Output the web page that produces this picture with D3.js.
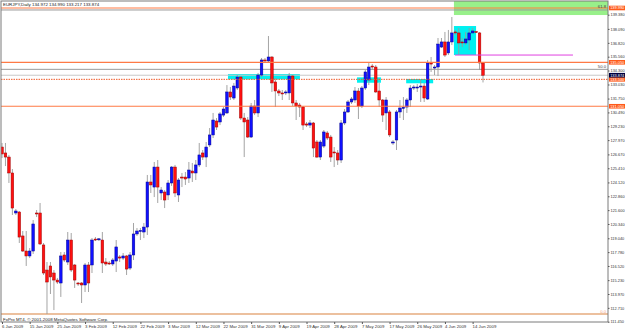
<!DOCTYPE html>
<html>
<head>
<meta charset="utf-8">
<script src="https://cdn.jsdelivr.net/npm/d3@7"></script>
<style>
  body { margin: 0; background: #fff; }
  svg text { font-family: "Liberation Sans", Arial, sans-serif; }
</style>
</head>
<body>
<div id="chart-container"></div>
<script>
// EURJPY daily candles, 6 Jan 2009 - 17 Jun 2009 (Sunday bars included)
const opens = [127.34,126.80,126.43,124.98,121.34,121.43,119.25,117.88,117.43,117.88,
  121.34,121.34,118.43,116.15,116.52,115.88,115.24,114.97,117.52,116.88,
  118.88,116.61,114.97,114.97,114.79,116.61,116.61,118.97,118.97,118.88,
  116.88,116.79,116.70,116.97,117.34,117.24,117.43,116.33,117.52,119.43,
  119.70,119.61,120.06,124.16,123.70,125.52,123.16,123.25,122.98,124.07,
  125.52,122.98,124.61,124.61,124.52,125.16,124.98,125.71,126.80,126.43,
  127.53,128.44,129.71,129.62,130.25,130.44,132.35,131.80,132.71,133.71,
  129.98,129.80,128.25,131.07,130.44,133.89,135.26,135.17,135.53,133.26,
  132.44,132.26,132.26,132.26,133.80,131.35,131.16,130.98,129.44,129.34,
  129.53,127.80,126.43,127.43,128.62,128.25,126.89,126.80,126.16,129.53,
  130.53,131.44,131.62,132.44,131.07,132.71,133.44,134.71,134.62,132.44,
  131.62,130.44,130.53,127.71,127.98,130.53,130.89,130.98,131.62,132.71,
  132.71,132.80,132.89,131.71,134.99,134.53,134.62,136.44,136.90,135.90,
  136.90,137.81,137.72,136.90,136.81,137.08,137.72,137.85,137.72,134.972];
const highs = [127.71,127.71,126.62,125.34,121.70,121.52,119.70,119.70,118.15,120.70,
  121.61,122.25,118.61,116.88,116.88,116.15,115.43,117.79,117.79,119.61,
  119.52,116.70,115.06,115.06,116.79,116.88,119.06,119.15,119.06,119.61,
  117.24,116.97,117.24,118.88,117.52,117.70,117.52,117.79,120.43,119.97,
  119.97,120.43,124.80,124.80,125.98,126.16,123.70,123.43,124.34,125.61,
  125.71,124.52,124.98,125.07,125.98,125.89,126.16,127.71,127.07,127.80,
  129.07,130.44,129.98,130.53,130.98,132.98,132.80,133.17,133.89,133.80,
  130.44,130.07,131.35,131.62,134.08,135.44,135.44,137.44,135.62,133.62,
  132.62,132.53,132.53,134.08,133.89,131.62,131.35,131.07,129.62,129.80,
  129.62,127.98,127.98,128.89,128.80,128.44,127.34,127.07,129.80,130.80,
  131.62,131.89,132.80,132.71,132.89,134.35,134.99,134.89,134.80,133.17,
  131.71,131.89,130.71,127.98,130.71,131.62,131.89,131.80,132.98,132.98,
  133.07,133.44,133.17,135.26,135.53,134.80,137.26,137.26,137.81,137.99,
  139.17,137.99,138.17,137.26,137.81,138.17,138.17,137.90,137.81,134.990];
const lows = [126.34,125.61,124.07,121.16,121.16,118.61,117.79,116.52,117.24,117.61,
  120.97,118.43,115.70,112.15,113.97,112.51,114.88,113.70,116.88,116.61,
  115.97,114.52,114.70,113.15,114.15,114.15,115.88,118.79,118.79,115.88,
  116.52,116.61,116.52,115.97,116.88,117.06,115.70,116.15,117.06,119.25,
  118.88,119.06,119.34,123.16,122.79,122.25,122.52,121.79,122.52,123.80,
  122.79,122.34,123.70,123.89,124.07,124.16,124.34,125.52,126.16,125.52,
  127.34,128.16,128.89,129.34,130.07,130.35,131.62,131.62,132.53,129.80,
  126.43,128.16,128.16,130.25,130.07,133.71,134.99,135.08,132.35,130.98,
  131.98,131.62,132.07,131.62,131.07,129.80,130.07,128.89,129.16,129.07,
  126.43,126.34,126.16,127.25,127.98,125.98,125.52,125.71,125.89,129.34,
  130.44,131.26,131.35,129.89,130.89,132.53,132.98,134.35,132.26,130.98,
  129.62,128.89,128.25,127.53,127.07,129.98,129.80,130.44,130.98,132.53,
  132.35,131.44,131.44,131.62,134.17,133.89,133.80,136.35,135.53,135.71,
  136.62,137.53,135.71,136.44,136.62,136.17,137.70,137.72,134.35,133.217];
const closes = [126.71,126.43,124.98,121.79,121.52,119.15,117.88,117.43,117.88,120.34,
  121.30,118.52,115.88,115.06,115.52,115.24,115.06,117.43,117.06,118.88,
  116.15,115.24,114.88,114.79,116.61,114.97,118.88,118.95,118.99,116.79,
  116.70,116.75,117.06,118.25,117.24,117.43,116.24,117.52,119.43,119.70,
  119.75,120.06,124.16,123.89,125.52,123.70,123.43,122.52,124.07,125.52,
  123.16,124.34,124.52,124.43,125.25,124.98,125.71,126.62,126.43,127.34,
  128.44,129.80,129.16,130.35,130.80,132.35,131.89,132.89,133.71,129.98,
  129.62,128.25,131.07,130.44,133.89,135.26,135.17,135.53,133.17,132.44,
  132.26,132.17,132.35,133.80,131.35,131.07,130.98,129.34,129.34,129.53,
  127.25,126.43,127.80,128.71,128.16,126.43,126.80,126.16,129.53,130.53,
  131.44,131.71,132.44,131.07,132.71,134.17,134.62,134.62,132.35,131.62,
  130.25,131.62,128.44,127.80,130.53,130.89,130.95,131.62,132.71,132.80,
  132.80,132.89,131.80,134.99,134.89,134.62,136.71,136.90,135.71,136.90,
  137.72,137.72,136.81,136.81,137.17,137.72,137.90,137.81,134.99,133.874];

// axis labels
const dateLabels = ["6 Jan 2009","15 Jan 2009","25 Jan 2009","3 Feb 2009","12 Feb 2009",
  "22 Feb 2009","3 Mar 2009","12 Mar 2009","22 Mar 2009","31 Mar 2009","9 Apr 2009",
  "19 Apr 2009","28 Apr 2009","7 May 2009","17 May 2009","26 May 2009","4 Jun 2009","14 Jun 2009"];
const priceTicks = [139.380,138.090,136.820,135.560,134.300,133.030,131.750,130.490,129.230,
  127.970,126.670,125.410,124.120,122.860,121.600,120.340,119.040,117.780,116.520,
  115.230,113.970,112.710,111.450];

// drawn objects
const hLevels = [139.990, 135.050, 131.050];    // solid orange lines
const dashLevels = [133.500];                     // dotted orange line
const fibLevels = [["61.8", 139.81], ["50.0", 134.41], ["0.0", 112.15]];
const bidPrice = 133.874;
const boxes = [   // [fromBar, toBar, topPrice, bottomPrice]
  [65.3, 86.1, 133.98, 133.50],
  [102.6, 109.5, 133.68, 133.19],
  [116.8, 124.6, 133.53, 133.14],
  [130.6, 137.0, 138.35, 135.71]
];
const greenZone = [130.6, 176, 141.0, 139.35];
const magentaLine = [130.9, 165, 135.71];

const width = 625, height = 330;
const plot = { left: 1, top: 1, right: 608, bottom: 322 };

const svg = d3.select("#chart-container")
  .append("svg")
  .attr("width", width)
  .attr("height", height)
  .style("display", "block");

svg.append("rect").attr("width", width).attr("height", height).attr("fill", "#fff");

const x = d3.scaleLinear().domain([0, 139]).range([2, 483]);
const y = d3.scaleLinear().domain([111.45, 139.38]).range([321.7, 14.7]);

svg.append("clipPath").attr("id", "plot-clip")
  .append("rect")
  .attr("x", plot.left).attr("y", plot.top)
  .attr("width", plot.right - plot.left).attr("height", plot.bottom - plot.top);

const g = svg.append("g").attr("clip-path", "url(#plot-clip)");

// background objects
g.append("rect")
  .attr("x", x(greenZone[0])).attr("y", y(greenZone[2]))
  .attr("width", x(greenZone[1]) - x(greenZone[0]))
  .attr("height", y(greenZone[3]) - y(greenZone[2]))
  .attr("fill", "#98f08a");

g.selectAll(".box")
  .data(boxes)
  .enter()
  .append("rect")
  .attr("class", "box")
  .attr("x", d => x(d[0]))
  .attr("y", d => y(d[2]))
  .attr("width", d => x(d[1]) - x(d[0]))
  .attr("height", d => y(d[3]) - y(d[2]))
  .attr("fill", "#00f0f0");

// fibo levels
g.selectAll(".fib")
  .data(fibLevels)
  .enter()
  .append("line")
  .attr("x1", plot.left).attr("x2", plot.right)
  .attr("y1", d => y(d[1])).attr("y2", d => y(d[1]))
  .attr("stroke", d => d[0] === "0.0" ? "#d9823f" : "#9a9a9a")
  .attr("stroke-width", d => d[0] === "0.0" ? 1.2 : 1);

// bid line
g.append("line")
  .attr("x1", plot.left).attr("x2", plot.right)
  .attr("y1", y(bidPrice)).attr("y2", y(bidPrice))
  .attr("stroke", "#c8c8c8").attr("stroke-width", 1);

// candles
const bars = d3.range(opens.length).map(i => ({
  i, o: opens[i], h: highs[i], l: lows[i], c: closes[i]
}));
const bodyW = 2.6;

g.selectAll(".wick")
  .data(bars)
  .enter()
  .append("line")
  .attr("class", "wick")
  .attr("x1", d => x(d.i)).attr("x2", d => x(d.i))
  .attr("y1", d => y(d.h)).attr("y2", d => y(d.l))
  .attr("stroke", "#9a9a9a")
  .attr("stroke-width", 0.9);

g.selectAll(".body")
  .data(bars)
  .enter()
  .append("rect")
  .attr("class", "body")
  .attr("x", d => x(d.i) - bodyW / 2)
  .attr("y", d => y(Math.max(d.o, d.c)))
  .attr("width", bodyW)
  .attr("height", d => Math.max(1, Math.abs(y(d.o) - y(d.c))))
  .attr("fill", d => d.c >= d.o ? "#1010ff" : "#ff1010")
  .attr("stroke", d => d.c >= d.o ? "#000090" : "#a00000")
  .attr("stroke-width", 0.5);

// horizontal lines
g.selectAll(".hline")
  .data(hLevels)
  .enter()
  .append("line")
  .attr("x1", plot.left).attr("x2", plot.right)
  .attr("y1", d => y(d)).attr("y2", d => y(d))
  .attr("stroke", "#ff7a45").attr("stroke-width", 1.2);

g.selectAll(".dline")
  .data(dashLevels)
  .enter()
  .append("line")
  .attr("x1", plot.left).attr("x2", plot.right)
  .attr("y1", d => y(d)).attr("y2", d => y(d))
  .attr("stroke", "#f05a28").attr("stroke-width", 1)
  .attr("stroke-dasharray", "1.5,1");

g.append("line")
  .attr("x1", x(magentaLine[0])).attr("x2", x(magentaLine[1]))
  .attr("y1", y(magentaLine[2])).attr("y2", y(magentaLine[2]))
  .attr("stroke", "#e040e0").attr("stroke-width", 1);

// fib labels
g.selectAll(".fiblabel")
  .data(fibLevels)
  .enter()
  .append("text")
  .attr("x", 606)
  .attr("y", d => y(d[1]) - 1.5)
  .attr("text-anchor", "end")
  .style("font-size", "4.2px")
  .attr("fill", d => d[0] === "0.0" ? "#f2a080" : "#444")
  .text(d => d[0]);

// title and copyright
svg.append("text")
  .attr("x", 3).attr("y", 6)
  .style("font-size", "4.4px")
  .attr("fill", "#222")
  .text("EURJPY,Daily  134.972 134.990 133.217 133.874");

svg.append("text")
  .attr("x", 3).attr("y", 320.5)
  .style("font-size", "4.4px")
  .attr("fill", "#222")
  .text("FxPro MT4, \u00a9 2001-2008 MetaQuotes Software Corp.");

// frame
svg.append("rect")
  .attr("x", plot.left).attr("y", plot.top)
  .attr("width", plot.right - plot.left).attr("height", plot.bottom - plot.top)
  .attr("fill", "none").attr("stroke", "#7a7a7a").attr("stroke-width", 1);

// price axis
const yAxis = d3.axisRight(y)
  .tickValues(priceTicks)
  .tickFormat(d3.format(".3f"))
  .tickSize(1.5)
  .tickPadding(1);

svg.append("g")
  .attr("transform", `translate(${plot.right}, 0)`)
  .call(yAxis)
  .call(a => a.select(".domain").remove())
  .call(a => a.selectAll("line").attr("stroke", "#555"))
  .call(a => a.selectAll("text").style("font-size", "3.9px").attr("fill", "#333")
    .style("font-family", "'Liberation Sans', Arial, sans-serif"));

// price tags on the axis
const tags = hLevels.concat(dashLevels).map(p => ({ p, fill: "#ff5a1a" }))
  .concat([{ p: bidPrice, fill: "#000040" }]);
const tagG = svg.selectAll(".tag")
  .data(tags)
  .enter()
  .append("g")
  .attr("transform", d => `translate(${plot.right + 1}, ${y(d.p)})`);
tagG.append("rect")
  .attr("x", 0).attr("y", -2.3).attr("width", 16).attr("height", 4.6)
  .attr("fill", d => d.fill);
tagG.append("text")
  .attr("x", 1.2).attr("y", 1.4)
  .style("font-size", "3.9px")
  .attr("fill", "#fff")
  .text(d => d3.format(".3f")(d.p));

// time axis
const xAxis = d3.axisBottom(x)
  .tickValues(d3.range(0, 137, 8))
  .tickFormat((d, i) => dateLabels[i])
  .tickSize(2)
  .tickPadding(1);

svg.append("g")
  .attr("transform", `translate(0, ${plot.bottom})`)
  .call(xAxis)
  .call(a => a.select(".domain").remove())
  .call(a => a.selectAll("line").attr("stroke", "#555"))
  .call(a => a.selectAll("text")
    .attr("text-anchor", "start")
    .attr("dx", "-0.5")
    .style("font-size", "4.3px").attr("fill", "#333")
    .style("font-family", "'Liberation Sans', Arial, sans-serif"));
</script>
</body>
</html>
